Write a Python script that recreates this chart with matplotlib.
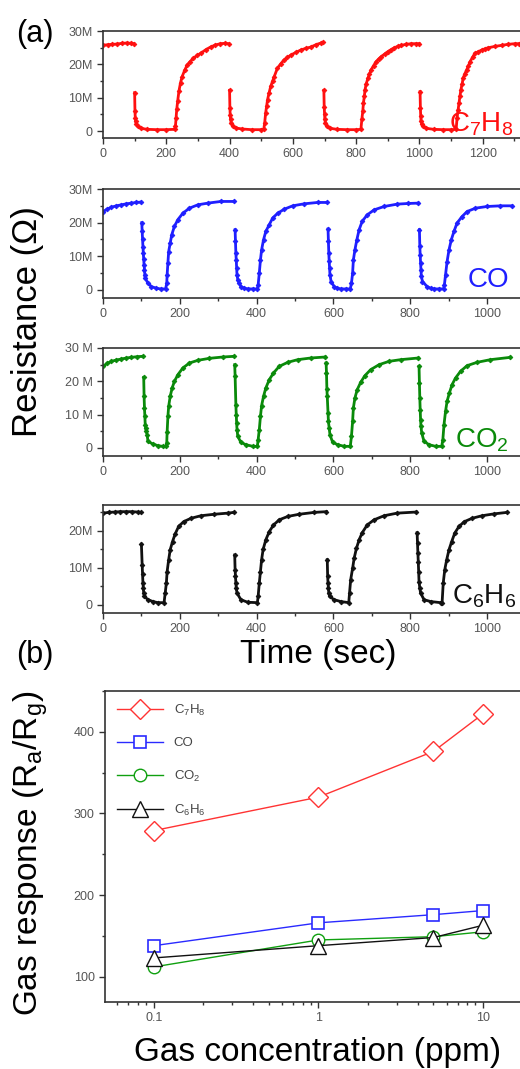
import matplotlib
matplotlib.use("Agg")
import matplotlib.pyplot as plt
from matplotlib.ticker import FixedLocator, MultipleLocator, NullFormatter

plt.rcParams['font.family'] = ['Liberation Sans', 'DejaVu Sans']
plt.rcParams['mathtext.default'] = 'regular'

nan = float('nan')

# ---- (a) transient resistance, time in s, resistance in MOhm ----
t_c7h8 = [0, 15, 30, 45, 60, 75, 90, 97, nan,
          100, 101, 102, 103, 105, 110, 120, 140, 170, 200, 226,
          229, 231, 233, 236, 240, 245, 250, 258, 266, 275, 285, 298, 310, 325, 340, 355, 371, 385, 397, nan,
          400, 401, 402, 403, 405, 410, 420, 440, 470, 500, 508,
          511, 514, 517, 520, 525, 530, 536, 541, 551, 562, 572, 583, 594, 610, 625, 641, 657, 673, 689, 695, nan,
          698, 699, 700, 701, 703, 708, 718, 740, 770, 800, 815,
          818, 821, 823, 826, 828, 832, 837, 842, 847, 855, 863, 871, 879, 890, 900, 910, 921, 932, 943, 958, 974, 988, 999, nan,
          1002, 1003, 1004, 1005, 1007, 1012, 1022, 1045, 1075, 1100, 1116,
          1119, 1122, 1125, 1128, 1131, 1135, 1138, 1143, 1149, 1155, 1160, 1168, 1175, 1186, 1197, 1208, 1218, 1240, 1260, 1280, 1302, 1315]
r_c7h8 = [25.7, 25.9, 26.0, 26.1, 26.3, 26.4, 26.3, 26.2, nan,
          11.5, 6.0, 4.0, 3.0, 2.2, 1.4, 0.8, 0.5, 0.4, 0.4, 0.5,
          1.5, 4.0, 6.5, 9.0, 12.0, 14.5, 16.3, 18.2, 19.8, 20.8, 21.8, 22.7, 23.4, 24.4, 25.2, 25.8, 26.2, 26.3, 26.2, nan,
          12.2, 7.0, 4.8, 3.5, 2.5, 1.5, 0.9, 0.6, 0.4, 0.4, 0.5,
          2.5, 5.4, 7.5, 9.4, 11.5, 13.4, 15.0, 16.3, 18.8, 20.2, 21.3, 22.1, 22.8, 23.6, 24.3, 24.8, 25.2, 25.9, 26.4, 26.6, nan,
          12.2, 7.3, 5.0, 3.5, 2.3, 1.4, 0.8, 0.5, 0.4, 0.4, 0.5,
          3.5, 6.0, 8.4, 10.5, 12.4, 14.2, 15.8, 17.1, 18.3, 19.6, 20.8, 21.6, 22.3, 23.1, 23.8, 24.4, 25.0, 25.4, 25.7, 26.0, 26.2, 26.2, 26.2, nan,
          11.8, 7.0, 4.5, 3.0, 2.2, 1.4, 0.8, 0.5, 0.4, 0.4, 0.5,
          4.0, 6.3, 8.4, 10.5, 12.4, 14.2, 15.8, 17.1, 18.3, 19.6, 20.8, 22.1, 23.3, 23.8, 24.3, 24.7, 25.0, 25.4, 25.7, 26.0, 26.2, 26.2]

t_co = [0, 11, 22, 35, 48, 61, 74, 87, 98, nan,
        101, 102, 103, 104, 105, 106, 107, 108, 109, 110, 117, 126, 139, 150, 163,
        166, 167, 169, 171, 175, 179, 186, 195, 208, 225, 247, 273, 307, 342, nan,
        344, 345, 346, 347, 348, 349, 351, 355, 359, 368, 377, 390, 402,
        404, 407, 410, 413, 418, 424, 433, 442, 455, 472, 494, 524, 559, 583, nan,
        586, 587, 588, 589, 590, 591, 594, 602, 610, 619, 632, 644,
        647, 650, 652, 656, 661, 667, 675, 688, 706, 732, 766, 795, 821, nan,
        824, 825, 826, 827, 828, 829, 832, 844, 853, 862, 875, 887,
        889, 892, 896, 901, 907, 914, 922, 935, 948, 970, 1000, 1035, 1065]
r_co = [23.3, 24.0, 24.6, 25.0, 25.3, 25.6, 25.8, 26.0, 26.1, nan,
        20.0, 17.4, 15.1, 12.9, 10.9, 9.1, 7.4, 6.0, 4.5, 3.5, 2.0, 1.0, 0.5, 0.3, 0.3,
        2.0, 4.5, 8.0, 11.4, 13.9, 16.4, 18.9, 20.9, 22.8, 24.3, 25.3, 25.8, 26.3, 26.3, nan,
        17.9, 14.4, 10.9, 8.9, 6.5, 4.5, 3.0, 2.0, 1.0, 0.5, 0.3, 0.3, 0.3,
        1.5, 5.0, 8.9, 11.9, 14.9, 17.4, 19.4, 21.4, 22.8, 24.0, 25.0, 25.6, 26.0, 26.0, nan,
        18.1, 14.4, 11.0, 8.5, 6.5, 4.5, 2.5, 1.0, 0.5, 0.3, 0.3, 0.3,
        2.0, 5.0, 8.9, 11.9, 14.9, 17.9, 20.4, 22.3, 23.8, 24.8, 25.5, 25.7, 25.8, nan,
        17.9, 13.0, 10.4, 8.0, 6.0, 4.0, 2.5, 1.0, 0.5, 0.3, 0.3, 0.3,
        1.5, 4.5, 8.4, 11.9, 14.9, 17.4, 19.9, 21.8, 23.3, 24.3, 24.8, 25.0, 25.0]

t_co2 = [0, 11, 22, 35, 48, 61, 74, 89, 103, nan,
         106, 107, 108, 109, 110, 111, 113, 115, 117, 130, 143, 155, 164,
         166, 167, 169, 171, 175, 180, 186, 195, 208, 225, 247, 277, 312, 341, nan,
         343, 344, 346, 347, 348, 349, 351, 359, 372, 390, 402,
         404, 407, 410, 413, 418, 424, 433, 444, 459, 481, 507, 541, 579, nan,
         581, 582, 583, 584, 586, 587, 589, 591, 598, 611, 628, 644,
         647, 650, 652, 656, 662, 671, 682, 697, 719, 745, 775, 821, nan,
         823, 824, 825, 826, 827, 828, 830, 836, 849, 866, 882,
         885, 888, 892, 896, 902, 909, 918, 931, 948, 974, 1009, 1061]
r_co2 = [24.5, 25.4, 26.0, 26.4, 26.7, 27.0, 27.2, 27.4, 27.5, nan,
         21.2, 15.5, 12.0, 9.5, 7.0, 6.0, 5.0, 4.0, 2.0, 1.2, 0.7, 0.5, 0.5,
         1.5, 4.8, 9.5, 12.5, 15.5, 18.0, 20.0, 22.0, 24.0, 25.5, 26.3, 26.9, 27.3, 27.5, nan,
         25.0, 21.7, 13.0, 10.0, 7.5, 5.5, 3.5, 1.7, 1.0, 0.5, 0.5,
         2.5, 5.5, 9.5, 12.7, 15.5, 18.0, 20.5, 22.5, 24.5, 25.7, 26.5, 27.0, 27.3, nan,
         25.5, 22.5, 17.7, 15.5, 10.5, 8.0, 6.0, 4.0, 1.7, 1.0, 0.5, 0.5,
         3.5, 8.0, 12.0, 15.0, 17.5, 19.7, 21.7, 23.5, 25.0, 26.0, 26.5, 27.0, nan,
         24.5, 19.5, 15.0, 11.5, 8.5, 6.5, 4.5, 2.0, 1.0, 0.5, 0.5,
         2.5, 7.0, 11.0, 14.0, 16.5, 19.0, 21.0, 23.0, 24.7, 25.7, 26.5, 27.2]

t_c6h6 = [0, 15, 30, 45, 60, 75, 90, 98, nan,
          100, 102, 103, 104, 105, 106, 108, 117, 130, 143, 159,
          162, 165, 167, 171, 175, 181, 188, 197, 210, 229, 255, 290, 325, 341, nan,
          343, 344, 345, 346, 347, 349, 359, 377, 402,
          404, 407, 410, 413, 417, 424, 433, 444, 459, 481, 511, 550, 582, nan,
          584, 585, 586, 587, 588, 590, 602, 619, 640,
          642, 645, 650, 654, 660, 667, 675, 688, 706, 732, 766, 816, nan,
          818, 819, 820, 821, 822, 823, 825, 827, 836, 853, 879,
          883, 886, 890, 895, 901, 908, 916, 927, 941, 961, 987, 1018, 1052]
r_c6h6 = [24.8, 25.0, 25.1, 25.2, 25.2, 25.2, 25.1, 25.0, nan,
          16.4, 10.8, 8.3, 5.9, 4.5, 3.2, 2.3, 1.4, 0.9, 0.6, 0.6,
          3.2, 5.9, 9.0, 12.2, 14.9, 17.1, 19.2, 21.2, 22.5, 23.4, 24.1, 24.5, 24.8, 25.0, nan,
          13.5, 9.5, 7.7, 5.9, 4.5, 3.2, 1.4, 0.7, 0.6,
          2.3, 5.9, 9.0, 12.2, 15.0, 17.6, 19.8, 21.6, 23.0, 23.9, 24.5, 25.0, 25.2, nan,
          12.2, 7.7, 5.9, 4.5, 3.2, 2.3, 1.4, 0.9, 0.6,
          3.2, 6.8, 9.9, 12.6, 15.3, 17.6, 19.5, 21.6, 23.0, 24.1, 24.8, 25.1, nan,
          19.5, 16.7, 14.0, 11.7, 9.0, 6.3, 4.5, 3.2, 1.4, 0.9, 0.6,
          0.5, 5.9, 9.5, 12.2, 14.9, 17.1, 19.4, 21.2, 22.5, 23.4, 24.1, 24.6, 25.0]

# ---- (b) gas response vs concentration ----
conc = [0.1, 1, 5, 10]
resp_c7h8 = [279, 320, 376, 422]
resp_co = [138, 166, 176, 181]
resp_co2 = [112, 145, 149, 155]
resp_c6h6 = [123, 138, 148, 163]

W, H = 520, 1069
fig = plt.figure(figsize=(W / 100, H / 100), dpi=100)


def px_axes(left, top, right, bottom):
    return fig.add_axes([left / W, 1 - bottom / H, (right - left) / W, (bottom - top) / H])


def style(ax):
    for s in ax.spines.values():
        s.set_color('#333333')
        s.set_linewidth(1.2)
    ax.tick_params(which='both', direction='out', colors='#333333',
                   labelcolor='#555555', labelsize=9, width=1)
    ax.tick_params(which='major', length=4)
    ax.tick_params(which='minor', length=2.5)


panels = [
    (t_c7h8, r_c7h8, '#ff1010', 31, 138, (0, 1381), (-2.1, 30), [0, 10, 20, 30],
     ['0', '10M', '20M', '30M'], 'C$_7$H$_8$', 449, 132),
    (t_co, r_co, '#1f1fff', 189, 298, (0, 1138), (-2.4, 30), [0, 10, 20, 30],
     ['0', '10M', '20M', '30M'], 'CO', 468, 287),
    (t_co2, r_co2, '#0a8a0a', 348, 456, (0, 1138), (-2.4, 30), [0, 10, 20, 30],
     ['0', '10 M', '20 M', '30 M'], 'CO$_2$', 455, 447),
    (t_c6h6, r_c6h6, '#111111', 505, 613, (0, 1138), (-2.2, 27), [0, 10, 20],
     ['0', '10M', '20M'], 'C$_6$H$_6$', 452, 603),
]

for t, r, col, top, bot, xl, yl, yt, ytl, name, lx, ly in panels:
    ax = px_axes(103, top, 540, bot)
    ax.plot(t, r, '-', color=col, lw=2.0, marker='D', ms=2.4, mew=0.6)
    ax.set_xlim(*xl)
    ax.set_ylim(*yl)
    ax.yaxis.set_major_locator(FixedLocator(yt))
    ax.set_yticklabels(ytl)
    ax.yaxis.set_minor_locator(MultipleLocator(5))
    ax.xaxis.set_major_locator(MultipleLocator(200))
    ax.xaxis.set_minor_locator(MultipleLocator(100))
    style(ax)
    fig.text(lx / W, 1 - ly / H, name, color=col, fontsize=20, ha='left', va='baseline')

fig.text(35 / W, 1 - 34 / H, '(a)', fontsize=22, ha='center', va='center')
fig.text(28 / W, 1 - 322 / H, 'Resistance (\u03a9)', fontsize=25, rotation=90,
         ha='center', va='center')
fig.text(318 / W, 1 - 655 / H, 'Time (sec)', fontsize=24, ha='center', va='center')

# ---- panel (b) ----
axb = px_axes(105, 691, 540, 1002)
axb.plot(conc, resp_c7h8, '-', color='#ff3333', lw=1, marker='D', ms=10,
         mfc='white', mew=1, label='C$_7$H$_8$')
axb.plot(conc, resp_co, '-', color='#2a2aff', lw=1, marker='s', ms=9,
         mfc='white', mew=1.2, label='CO')
axb.plot(conc, resp_co2, '-', color='#10a010', lw=1, marker='o', ms=9,
         mfc='white', mew=1, label='CO$_2$')
axb.plot(conc, resp_c6h6, '-', color='#111111', lw=1, marker='^', ms=12,
         mfc='white', mew=1, label='C$_6$H$_6$')
axb.set_xscale('log')
axb.set_xlim(0.0504, 22.2)
axb.set_ylim(69, 450)
axb.set_xticks([0.1, 1, 10])
axb.set_xticklabels(['0.1', '1', '10'])
axb.xaxis.set_minor_formatter(NullFormatter())
axb.yaxis.set_major_locator(FixedLocator([100, 200, 300, 400]))
axb.yaxis.set_minor_locator(MultipleLocator(50))
style(axb)
leg = axb.legend(loc='upper left', bbox_to_anchor=(0.0, 1.0), frameon=False,
                 fontsize=9.5, handlelength=3.5, labelspacing=1.45, borderaxespad=0.5)
for txt in leg.get_texts():
    txt.set_color('#444444')

fig.text(35 / W, 1 - 655 / H, '(b)', fontsize=22, ha='center', va='center')
fig.text(31 / W, 1 - 853 / H, 'Gas response (R$_a$/R$_g$)', fontsize=24, rotation=90,
         ha='center', va='center')
fig.text(318 / W, 1 - 1053 / H, 'Gas concentration (ppm)', fontsize=24,
         ha='center', va='center')

fig.savefig('out.png', dpi=100)
